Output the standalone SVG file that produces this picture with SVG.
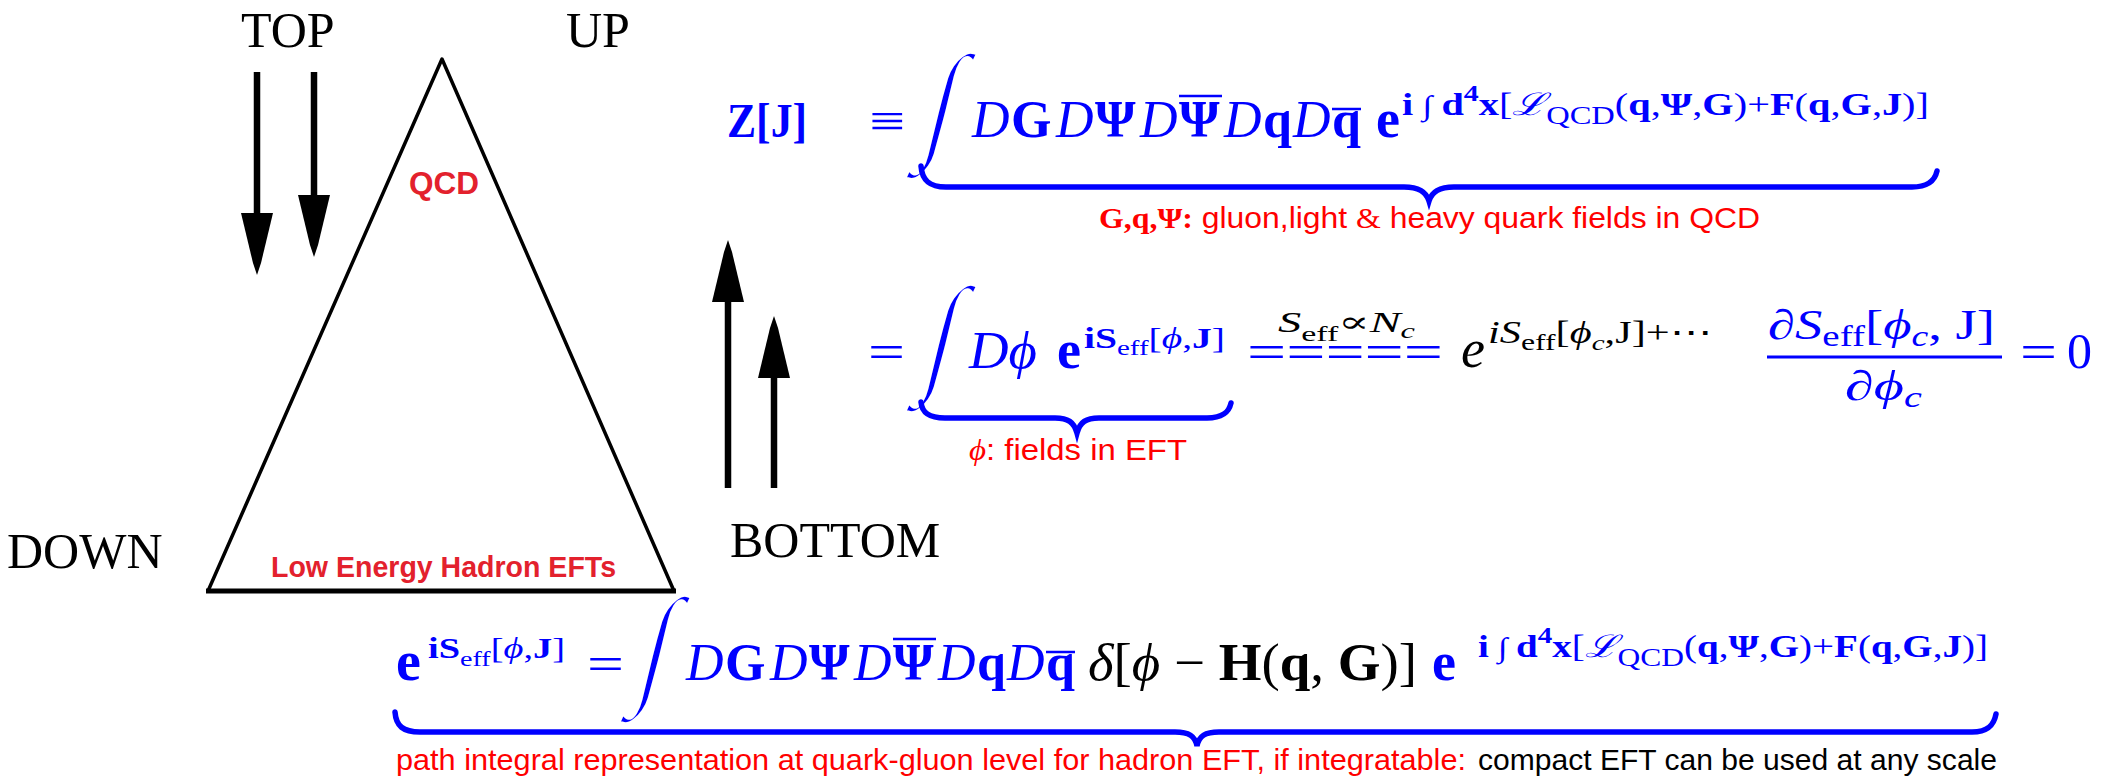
<svg xmlns="http://www.w3.org/2000/svg" width="2107" height="781" viewBox="0 0 2107 781">
<style>
.lbl{font-family:"Liberation Serif","DejaVu Serif",serif;font-size:50px;fill:#000}
.hl{font-family:"Liberation Sans","DejaVu Sans",sans-serif;font-weight:bold;fill:#e3212d}
.m{font-family:"Liberation Serif","DejaVu Serif",serif;fill:#0000ff}
.k{fill:#000}
.b{font-weight:bold}
.i{font-style:italic}
.cap{font-family:"Liberation Sans","DejaVu Sans",sans-serif;font-size:29px;fill:#ff0000}
.capm{font-family:"Liberation Serif","DejaVu Serif",serif}
.int{font-family:"Liberation Serif","DejaVu Sans",serif;fill:#0000ff;text-anchor:middle;stroke:#fff;stroke-width:3.5}
.brace{fill:none;stroke:#0000ff;stroke-width:5.5;stroke-linecap:round}
.ov{stroke:#0000ff;stroke-width:2.5}
.shaft{stroke:#000;stroke-width:6.5;fill:none}
.tri{fill:none;stroke:#000;stroke-width:3.5;stroke-linejoin:round}
</style>
<defs>
<marker id="ah" markerUnits="userSpaceOnUse" markerWidth="66" markerHeight="36" refX="0" refY="17" orient="auto" overflow="visible">
<path d="M0,1 L50,13 L62,17 L50,21 L0,33 Z" fill="#000"/>
</marker>
</defs>
<rect width="2107" height="781" fill="#fff"/>

<g id="labels">
<text class="lbl" x="241" y="47">TOP</text>
<text class="lbl" x="566" y="47">UP</text>
<text class="lbl" x="7" y="568">DOWN</text>
<text class="lbl" x="730" y="557">BOTTOM</text>
</g>

<g id="triangle">
<polyline class="tri" points="208,591 442,59 674,591"/>
<line x1="206" y1="591" x2="676" y2="591" stroke="#000" stroke-width="5"/>
<text class="hl" x="409" y="194" font-size="32" textLength="70" lengthAdjust="spacingAndGlyphs">QCD</text>
<text class="hl" x="271" y="577" font-size="29" textLength="345" lengthAdjust="spacingAndGlyphs">Low Energy Hadron  EFTs</text>
</g>

<g id="connectors">
<line class="shaft" x1="257" y1="72" x2="257" y2="213" marker-end="url(#ah)"/>
<line class="shaft" x1="314" y1="72" x2="314" y2="195" marker-end="url(#ah)"/>
<line class="shaft" x1="728" y1="488" x2="728" y2="302" marker-end="url(#ah)"/>
<line class="shaft" x1="774" y1="488" x2="774" y2="378" marker-end="url(#ah)"/>
</g>

<g id="eq1" class="m">
<text x="727" y="137" font-size="49" class="b" textLength="80" lengthAdjust="spacingAndGlyphs">Z[J]</text>
<text x="869" y="137" font-size="48" textLength="36" lengthAdjust="spacingAndGlyphs">≡</text>
<text class="int" font-size="110" transform="translate(934,145) skewX(-14) scale(1,1.19)">∫</text>
<text y="137" font-size="52"><tspan x="972" class="i">D</tspan><tspan x="1011" class="b">G</tspan><tspan x="1056" class="i">D</tspan><tspan x="1095" class="b">Ψ</tspan><tspan x="1140" class="i">D</tspan><tspan x="1179" class="b">Ψ</tspan><tspan x="1224" class="i">D</tspan><tspan x="1263" class="b">q</tspan><tspan x="1293" class="i">D</tspan><tspan x="1332" class="b">q</tspan></text>
<line class="ov" x1="1179" y1="96" x2="1222" y2="96"/>
<line class="ov" x1="1332" y1="109" x2="1361" y2="109"/>
<text x="1376" y="137" font-size="54" class="b">e</text>
<text x="1402" y="115" font-size="31" textLength="527" lengthAdjust="spacingAndGlyphs"><tspan class="b">i</tspan><tspan font-family="Liberation Serif, DejaVu Sans" font-size="28"> ∫ </tspan><tspan class="b">d</tspan><tspan class="b" y="101" font-size="23">4</tspan><tspan class="b" y="115">x</tspan>[<tspan class="i">ℒ</tspan><tspan y="124" font-size="25">QCD</tspan><tspan y="115">(</tspan><tspan class="b">q</tspan>,<tspan class="b">Ψ</tspan>,<tspan class="b">G</tspan>)+<tspan class="b">F</tspan>(<tspan class="b">q</tspan>,<tspan class="b">G</tspan>,<tspan class="b">J</tspan>)]</text>
<path class="brace" d="M921,166 C922,180 929,187 946,187 L1404,187 C1418,187 1426,191 1429,201 C1432,191 1440,187 1454,187 L1912,187 C1929,187 1935,180 1937,171"/>
<text class="cap" x="1099" y="228" textLength="661" lengthAdjust="spacingAndGlyphs"><tspan class="capm b">G,q,Ψ:</tspan> gluon,light <tspan class="capm">&amp;</tspan> heavy quark fields in QCD</text>
</g>

<g id="eq2" class="m">
<text x="868" y="368" font-size="48" textLength="37" lengthAdjust="spacingAndGlyphs">=</text>
<text class="int" font-size="110" transform="translate(934,378) skewX(-14) scale(1,1.2)">∫</text>
<text x="969" y="368" font-size="52" textLength="68" lengthAdjust="spacingAndGlyphs"><tspan class="i">D</tspan><tspan class="i">ϕ</tspan></text>
<text x="1057" y="368" font-size="54" class="b">e</text>
<text x="1084" y="348" font-size="30" textLength="141" lengthAdjust="spacingAndGlyphs"><tspan class="b">iS</tspan><tspan y="355" font-size="22">eff</tspan><tspan y="348">[</tspan><tspan class="i">ϕ</tspan>,<tspan class="b">J</tspan>]</text>
<path class="brace" d="M921,402 C922,413 929,418 945,418 L1055,418 C1068,418 1074,422 1077,433 C1080,422 1086,418 1099,418 L1207,418 C1223,418 1229,412 1231,403"/>
<text class="cap" x="969" y="460" textLength="218" lengthAdjust="spacingAndGlyphs"><tspan class="capm i">ϕ</tspan>: fields in EFT</text>
<text class="k" x="1278" y="332" font-size="30" textLength="137" lengthAdjust="spacingAndGlyphs"><tspan class="i">S</tspan><tspan y="341" font-size="22">eff</tspan><tspan y="332">∝</tspan><tspan class="i">N</tspan><tspan class="i" y="338" font-size="21">c</tspan></text>
<text x="1247" y="368" font-size="48" textLength="196" lengthAdjust="spacingAndGlyphs">=====</text>
<text class="k i" x="1461" y="367" font-size="54">e</text>
<text class="k" x="1488" y="343" font-size="32" textLength="224" lengthAdjust="spacingAndGlyphs"><tspan class="i">iS</tspan><tspan y="350" font-size="24">eff</tspan><tspan y="343">[</tspan><tspan class="i">ϕ</tspan><tspan class="i" y="350" font-size="22">c</tspan><tspan y="343">,J]+⋯</tspan></text>
<line x1="1767" y1="357" x2="2002" y2="357" stroke="#0000ff" stroke-width="2.8"/>
<text x="1768" y="339" font-size="42" textLength="227" lengthAdjust="spacingAndGlyphs">∂<tspan class="i">S</tspan><tspan y="346" font-size="30">eff</tspan><tspan y="339">[</tspan><tspan class="i">ϕ</tspan><tspan class="i" y="346" font-size="29">c</tspan><tspan y="339">, J]</tspan></text>
<text x="1845" y="400" font-size="42" textLength="77" lengthAdjust="spacingAndGlyphs">∂<tspan class="i">ϕ</tspan><tspan class="i" y="407" font-size="29">c</tspan></text>
<text x="2020" y="368" font-size="48" textLength="37" lengthAdjust="spacingAndGlyphs">=</text>
<text x="2067" y="368" font-size="50">0</text>
</g>

<g id="eq3" class="m">
<text x="396" y="680" font-size="56" class="b">e</text>
<text x="428" y="658" font-size="30" textLength="137" lengthAdjust="spacingAndGlyphs"><tspan class="b">iS</tspan><tspan y="666" font-size="22">eff</tspan><tspan y="658">[</tspan><tspan class="i">ϕ</tspan>,<tspan class="b">J</tspan>]</text>
<text x="587" y="680" font-size="48" textLength="37" lengthAdjust="spacingAndGlyphs">=</text>
<text class="int" font-size="110" transform="translate(648,689) skewX(-14) scale(1,1.2)">∫</text>
<text y="680" font-size="52"><tspan x="686" class="i">D</tspan><tspan x="725" class="b">G</tspan><tspan x="770" class="i">D</tspan><tspan x="809" class="b">Ψ</tspan><tspan x="854" class="i">D</tspan><tspan x="893" class="b">Ψ</tspan><tspan x="938" class="i">D</tspan><tspan x="977" class="b">q</tspan><tspan x="1007" class="i">D</tspan><tspan x="1046" class="b">q</tspan></text>
<line class="ov" x1="893" y1="639" x2="936" y2="639"/>
<line class="ov" x1="1046" y1="652" x2="1075" y2="652"/>
<text class="k" x="1088" y="680" font-size="52" textLength="329" lengthAdjust="spacingAndGlyphs"><tspan class="i">δ</tspan>[<tspan class="i">ϕ</tspan> − <tspan class="b">H</tspan>(<tspan class="b">q</tspan>, <tspan class="b">G</tspan>)]</text>
<text x="1432" y="680" font-size="54" class="b">e</text>
<text x="1478" y="657" font-size="31" textLength="510" lengthAdjust="spacingAndGlyphs"><tspan class="b">i</tspan><tspan font-family="Liberation Serif, DejaVu Sans" font-size="28"> ∫ </tspan><tspan class="b">d</tspan><tspan class="b" y="643" font-size="23">4</tspan><tspan class="b" y="657">x</tspan>[<tspan class="i">ℒ</tspan><tspan y="666" font-size="25">QCD</tspan><tspan y="657">(</tspan><tspan class="b">q</tspan>,<tspan class="b">Ψ</tspan>,<tspan class="b">G</tspan>)+<tspan class="b">F</tspan>(<tspan class="b">q</tspan>,<tspan class="b">G</tspan>,<tspan class="b">J</tspan>)]</text>
<path class="brace" d="M395,712 C396,726 403,732 420,732 L1175,732 C1189,732 1195,736 1197,746 C1199,736 1205,732 1219,732 L1972,732 C1988,732 1994,725 1996,714"/>
<text class="cap" x="396" y="770" textLength="1070" lengthAdjust="spacingAndGlyphs">path integral representation at quark-gluon level for hadron EFT, if integratable:</text>
<text class="cap" x="1478" y="770" style="fill:#000" textLength="519" lengthAdjust="spacingAndGlyphs">compact EFT can be used at any scale</text>
</g>
</svg>
